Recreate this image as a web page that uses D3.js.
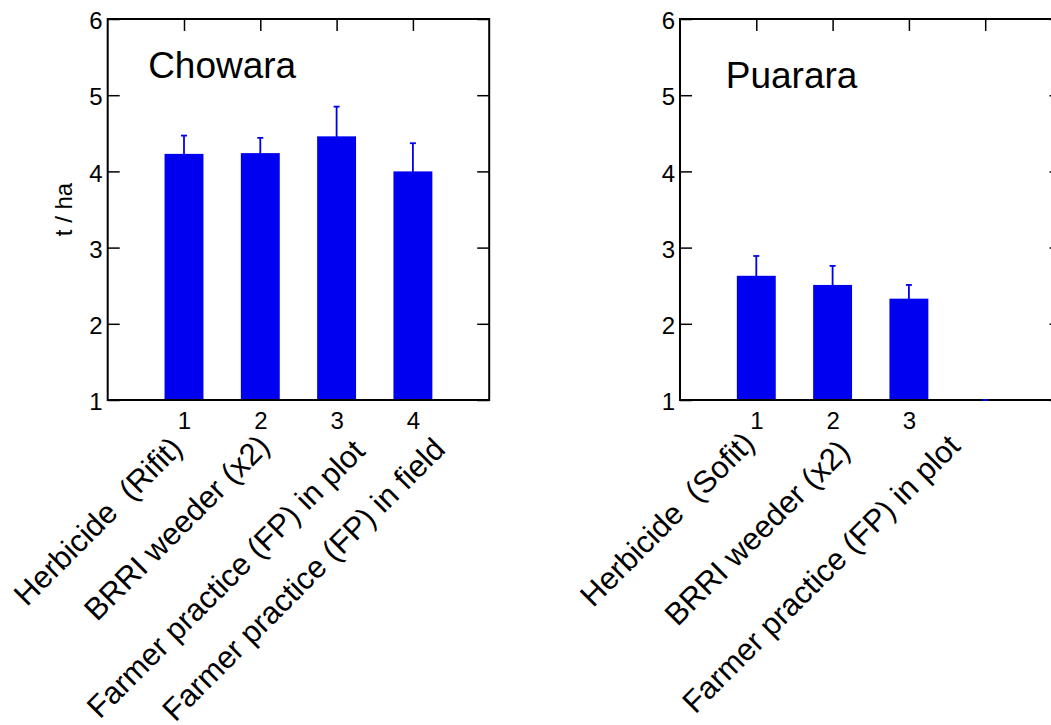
<!DOCTYPE html>
<html>
<head>
<meta charset="utf-8">
<script src="https://d3js.org/d3.v7.min.js"></script>
<style>
  body { margin: 0; background: white; }
  svg text { font-family: "Liberation Sans", Arial, sans-serif; fill: black; }
  .tick line { stroke: black; stroke-width: 1.5; }
  .domain { display: none; }
</style>
</head>
<body>
<div id="chart"></div>
<script>
// ---- data ----
var xTicks = [1, 2, 3, 4];
var yTicks = [1, 2, 3, 4, 5, 6];

var chowaraCategories = ["Herbicide  (Rifit)", "BRRI weeder (x2)", "Farmer practice (FP) in plot", "Farmer practice (FP) in field"];
var chowaraValues = [4.23, 4.24, 4.46, 4.00];
var chowaraErrors = [0.24, 0.20, 0.39, 0.37];
var chowaraTickLabels = ["1", "2", "3", "4"];

var puararaCategories = ["Herbicide  (Sofit)", "BRRI weeder (x2)", "Farmer practice (FP) in plot"];
var puararaValues = [2.63, 2.51, 2.33, 0];   // 4th: no data, clipped at the axis floor
var puararaErrors = [0.26, 0.25, 0.18, 0];
var puararaTickLabels = ["1", "2", "3", ""];

// ---- layout ----
var W = 1051, H = 725;
var plotTop = 19, plotBottom = 400, boxW = 381.5;
var blue = "#0000f0";

var svg = d3.select("#chart").append("svg")
    .attr("width", W)
    .attr("height", H);

function drawPanel(opt) {
    var x = d3.scaleLinear().domain([0, 5]).range([opt.left, opt.left + boxW]);
    var y = d3.scaleLinear().domain([1, 6]).range([plotBottom, plotTop]).clamp(true);
    var g = svg.append("g");

    // inward ticks
    g.append("g")
        .attr("transform", "translate(" + opt.left + ",0)")
        .call(d3.axisLeft(y).tickValues(yTicks).tickFormat(d3.format("d")).tickSize(-12).tickPadding(5))
        .selectAll("text").style("font-size", "24px").attr("dy", "0.4em");
    g.append("g")
        .attr("transform", "translate(" + (opt.left + boxW) + ",0)")
        .call(d3.axisRight(y).tickValues(yTicks).tickSize(-12).tickFormat(""));
    g.append("g")
        .attr("transform", "translate(0," + plotTop + ")")
        .call(d3.axisTop(x).tickValues(xTicks).tickSize(-12).tickFormat(""));
    var xb = g.append("g")
        .attr("transform", "translate(0," + plotBottom + ")")
        .call(d3.axisBottom(x).tickValues(xTicks).tickSize(0).tickPadding(12)
            .tickFormat(function(d, i) { return opt.tickLabels[i]; }));
    xb.selectAll("text").style("font-size", "24px");

    // bars
    var bw = 0.51;
    g.selectAll("rect.bar")
        .data(opt.values)
        .enter().append("rect")
        .attr("class", "bar")
        .attr("x", function(d, i) { return x(xTicks[i] - bw / 2); })
        .attr("width", x(bw) - x(0))
        .attr("y", function(d) { return y(d); })
        .attr("height", function(d) { return plotBottom - y(d); })
        .attr("fill", blue);

    // box
    g.append("rect")
        .attr("x", x(0)).attr("y", y(6))
        .attr("width", x(5) - x(0)).attr("height", y(1) - y(6))
        .attr("fill", "none").attr("stroke", "black").attr("stroke-width", 2);

    // error bars
    var cap = 3;
    var eb = g.selectAll("g.err")
        .data(opt.values)
        .enter().append("g")
        .attr("class", "err")
        .attr("stroke", blue)
        .attr("stroke-width", 1.8);
    eb.append("line")
        .attr("x1", function(d, i) { return x(xTicks[i]); })
        .attr("x2", function(d, i) { return x(xTicks[i]); })
        .attr("y1", function(d, i) { return y(d - opt.errors[i]); })
        .attr("y2", function(d, i) { return y(d + opt.errors[i]); });
    eb.append("line")
        .attr("x1", function(d, i) { return x(xTicks[i]) - cap; })
        .attr("x2", function(d, i) { return x(xTicks[i]) + cap; })
        .attr("y1", function(d, i) { return y(d + opt.errors[i]); })
        .attr("y2", function(d, i) { return y(d + opt.errors[i]); });

    // site name
    g.append("text")
        .attr("x", x(opt.titleAt[0]))
        .attr("y", y(opt.titleAt[1]))
        .style("font-size", "37px")
        .text(opt.title);

    // rotated category names
    g.selectAll("text.cat")
        .data(opt.categories)
        .enter().append("text")
        .attr("class", "cat")
        .attr("transform", function(d, i) {
            return "translate(" + (x(xTicks[i]) + opt.labelShift[i]) + "," + opt.labelY[i] + ") rotate(-45)";
        })
        .attr("text-anchor", "end")
        .style("font-size", "31px")
        .style("white-space", "pre")
        .text(function(d) { return d; });

    if (opt.yLabel) {
        g.append("text")
            .attr("transform", "translate(" + (opt.left - 44) + "," + ((plotTop + plotBottom) / 2) + ") rotate(-90)")
            .attr("text-anchor", "middle")
            .attr("dy", "0.35em")
            .style("font-size", "24px")
            .text(opt.yLabel);
    }
}

drawPanel({
    left: 107.7,
    title: "Chowara", titleAt: [0.53, 5.22],
    values: chowaraValues, errors: chowaraErrors,
    categories: chowaraCategories, tickLabels: chowaraTickLabels,
    labelShift: [0, 11, 30, 34], labelY: [450, 448, 453, 451],
    yLabel: "t / ha"
});

drawPanel({
    left: 680,
    title: "Puarara", titleAt: [0.6, 5.1],
    values: puararaValues, errors: puararaErrors,
    categories: puararaCategories, tickLabels: puararaTickLabels,
    labelShift: [0, 19, 53], labelY: [445, 453, 448]
});
</script>
</body>
</html>
